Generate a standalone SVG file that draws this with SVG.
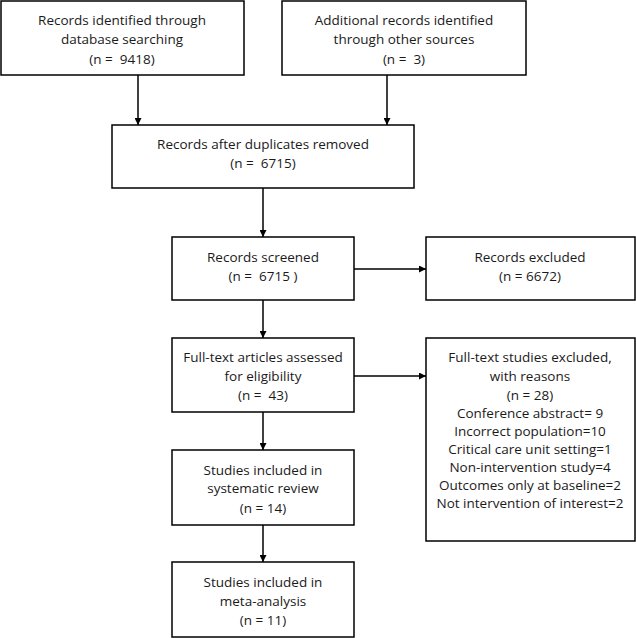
<svg xmlns="http://www.w3.org/2000/svg" width="636" height="638" viewBox="0 0 636 638">
<defs>
<marker id="ah" viewBox="0 0 10 10" refX="10" refY="5" markerWidth="7" markerHeight="7" markerUnits="userSpaceOnUse" orient="auto">
<path d="M0,0 L10,5 L0,10 z" fill="#000"/>
</marker>
<style>
rect{fill:#fff;stroke:#000;stroke-width:1.5}
text{font-family:"Open Sans","Liberation Sans",sans-serif;font-size:13.5px;fill:#1a1a1a;text-anchor:middle;white-space:pre}
.c line{stroke:#000;stroke-width:1.5;marker-end:url(#ah)}
</style>
</defs>
<rect x="0" y="0" width="636" height="638" style="stroke:none"/>
<g id="n1"><rect x="1" y="1" width="243" height="74"/>
<text x="122" y="25">Records identified through</text><text x="122" y="44">database searching</text><text x="122" y="64" xml:space="preserve">(n =  9418)</text></g>
<g id="n2"><rect x="282" y="1" width="244" height="74"/>
<text x="404" y="25">Additional records identified</text><text x="404" y="44">through other sources</text><text x="404" y="64" xml:space="preserve">(n =  3)</text></g>
<g id="n3"><rect x="112" y="125" width="302" height="63"/>
<text x="263" y="149">Records after duplicates removed</text><text x="263" y="168" xml:space="preserve">(n =  6715)</text></g>
<g id="n4"><rect x="172" y="237" width="182" height="63"/>
<text x="263" y="262">Records screened</text><text x="263" y="281" xml:space="preserve">(n =  6715 )</text></g>
<g id="n5"><rect x="426" y="237" width="209" height="63"/>
<text x="530" y="262">Records excluded</text><text x="530" y="281">(n = 6672)</text></g>
<g id="n6"><rect x="172" y="338" width="182" height="74"/>
<text x="263" y="362">Full-text articles assessed</text><text x="263" y="381">for eligibility</text><text x="263" y="400" xml:space="preserve">(n =  43)</text></g>
<g id="n7"><rect x="426" y="338" width="209" height="203"/>
<text x="530" y="362">Full-text studies excluded,</text><text x="530" y="381">with reasons</text><text x="530" y="400">(n = 28)</text>
<text x="530" y="418">Conference abstract= 9</text><text x="530" y="436">Incorrect population=10</text><text x="530" y="454">Critical care unit setting=1</text>
<text x="530" y="472">Non-intervention study=4</text><text x="530" y="490">Outcomes only at baseline=2</text><text x="530" y="508">Not intervention of interest=2</text></g>
<g id="n8"><rect x="172" y="450" width="182" height="75"/>
<text x="263" y="475">Studies included in</text><text x="263" y="493">systematic review</text><text x="263" y="513">(n = 14)</text></g>
<g id="n9"><rect x="172" y="562" width="182" height="75"/>
<text x="263" y="587">Studies included in</text><text x="263" y="606">meta-analysis</text><text x="263" y="625">(n = 11)</text></g>
<g id="connectors" class="c">
<line x1="138" y1="75" x2="138" y2="125"/>
<line x1="387" y1="75" x2="387" y2="125"/>
<line x1="263" y1="188" x2="263" y2="237"/>
<line x1="354" y1="269" x2="426" y2="269"/>
<line x1="263" y1="300" x2="263" y2="338"/>
<line x1="354" y1="376" x2="426" y2="376"/>
<line x1="263" y1="412" x2="263" y2="450"/>
<line x1="263" y1="525" x2="263" y2="562"/>
</g>
</svg>
